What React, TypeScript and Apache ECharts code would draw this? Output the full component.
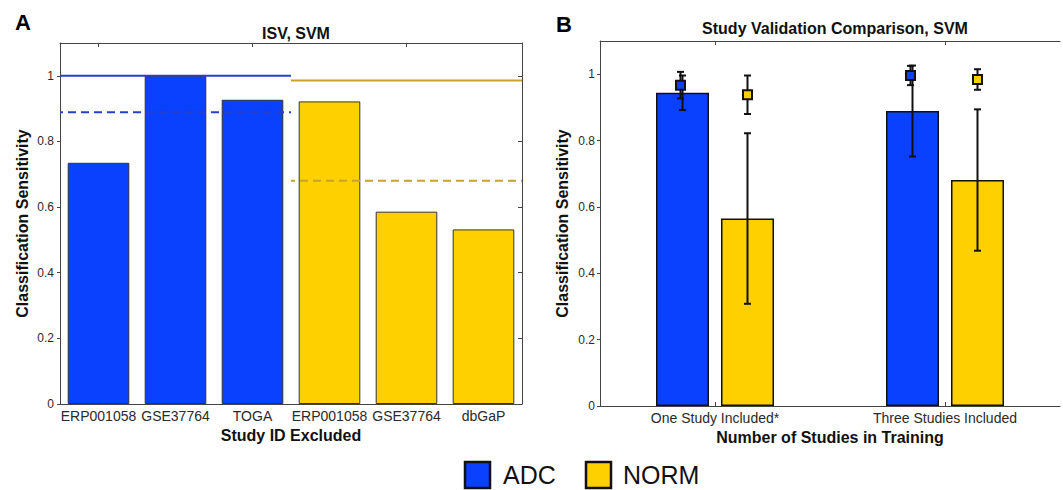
import React, { useEffect, useRef } from "react";
import * as echarts from "echarts";

// ---------- Panel A data ----------
const categoriesA = ["ERP001058", "GSE37764", "TOGA", "ERP001058", "GSE37764", "dbGaP"];
const adcA = [0.735, 1.0, 0.927, null, null, null];
const normA = [null, null, null, 0.922, 0.586, 0.532];
// reference levels: [solid, dashed]
const adcRefLevels = [1.0, 0.889];
const normRefLevels = [0.986, 0.68];
// category-group extents (in category index units) for the reference lines
const adcRefSpan = [-0.5, 2.5];
const normRefSpan = [2.5, 5.5];

// ---------- Panel B data ----------
const categoriesB = ["One Study Included*", "Three Studies Included"];
const adcB = [0.944, 0.889];
const adcBErr = [0.052, 0.137];
const normB = [0.565, 0.681];
const normBErr = [0.257, 0.213];
const adcBPoint = [0.967, 0.996];
const adcBPointErr = [0.04, 0.029];
const normBPoint = [0.938, 0.984];
const normBPointErr = [0.058, 0.031];

const yTicks = [0, 0.2, 0.4, 0.6, 0.8, 1];
const legendItems = ["ADC", "NORM"];

// ---------- styles ----------
const FONT = '"Liberation Sans", Arial, Helvetica, sans-serif';
const BLUE = "#0a41ff";
const GOLD = "#ffd000";
const BLUE_LINE = "#2540cc";
const GOLD_LINE = "#c9a12c";
const AXIS = "#444";
const LABEL = "#2a2a2a";
const BAR_W_B = 53;
const GAP_B = 12;
const OFF_B = (BAR_W_B + GAP_B) / 2;

function errorBar(offset: number) {
  return (params: any, api: any) => {
    const i = api.value(0);
    const v = api.value(1);
    const e = api.value(2);
    const x = api.coord([i, v])[0] + offset;
    const yt = api.coord([i, v + e])[1];
    const yb = api.coord([i, v - e])[1];
    const cap = 3.5;
    const style = { stroke: "#111", lineWidth: 2 };
    return {
      type: "group",
      children: [
        { type: "line", shape: { x1: x, y1: yt, x2: x, y2: yb }, style },
        { type: "line", shape: { x1: x - cap, y1: yt, x2: x + cap, y2: yt }, style },
        { type: "line", shape: { x1: x - cap, y1: yb, x2: x + cap, y2: yb }, style },
      ],
    };
  };
}

function pointMarker(offset: number, color: string) {
  const eb = errorBar(offset);
  return (params: any, api: any) => {
    const i = api.value(0);
    const v = api.value(1);
    const [cx, cy] = api.coord([i, v]);
    const x = cx + offset;
    const s = 9;
    const g: any = eb(params, api);
    g.children.push({
      type: "rect",
      shape: { x: x - s / 2, y: cy - s / 2, width: s, height: s },
      style: { fill: color, stroke: "#111", lineWidth: 2 },
    });
    return g;
  };
}

export default function App() {
  const ref = useRef<HTMLDivElement>(null);
  useEffect(() => {
    if (!ref.current) return;
    const chart = echarts.init(ref.current, null, { renderer: "svg" });

    const lineStyle = { color: AXIS, width: 1 };
    const yAxisBase = (gridIndex: number, margin: number, nameGap: number) => ({
      type: "value",
      gridIndex,
      min: 0,
      max: 1.1,
      interval: 0.2,
      name: "Classification Sensitivity",
      nameLocation: "middle",
      nameGap,
      nameTextStyle: { fontFamily: FONT, fontSize: 16, fontWeight: "bold", color: "#111" },
      axisLine: { show: true, onZero: false, lineStyle },
      axisTick: { show: true, inside: false, length: 3, lineStyle: { color: AXIS }, customValues: yTicks },
      axisLabel: { fontFamily: FONT, fontSize: 12, color: LABEL, margin, customValues: yTicks },
      splitLine: { show: false },
    });

    const option: any = {
      animation: false,
      textStyle: { fontFamily: FONT },
      title: [
        { text: "A", left: 10, top: 6, textStyle: { fontFamily: FONT, fontSize: 22, fontWeight: "bold", color: "#000" } },
        { text: "ISV, SVM", left: 291, top: 20, textAlign: "center", textStyle: { fontFamily: FONT, fontSize: 16, fontWeight: "bold", color: "#111" } },
        { text: "B", left: 551, top: 8, textStyle: { fontFamily: FONT, fontSize: 22, fontWeight: "bold", color: "#000" } },
        { text: "Study Validation Comparison, SVM", left: 830, top: 15, textAlign: "center", textStyle: { fontFamily: FONT, fontSize: 16, fontWeight: "bold", color: "#111" } },
      ],
      grid: [
        { left: 60, top: 43, right: 1063 - 522, bottom: 490 - 404, containLabel: false },
        { left: 600, top: 41, right: 3, bottom: 490 - 406, containLabel: false },
      ],
      xAxis: [
        {
          type: "category",
          gridIndex: 0,
          data: categoriesA,
          position: "bottom",
          name: "Study ID Excluded",
          nameLocation: "middle",
          nameGap: 22,
          nameTextStyle: { fontFamily: FONT, fontSize: 16, fontWeight: "bold", color: "#111" },
          axisLine: { show: true, onZero: false, lineStyle },
          axisTick: { show: true, inside: true, alignWithLabel: true, length: 4, lineStyle: { color: AXIS } },
          axisLabel: { interval: 0, hideOverlap: false, fontFamily: FONT, fontSize: 14, color: LABEL, margin: 5 },
        },
        {
          type: "category",
          gridIndex: 0,
          data: categoriesA,
          position: "top",
          axisLine: { show: true, onZero: false, lineStyle },
          axisTick: { show: true, inside: true, alignWithLabel: true, length: 4, lineStyle: { color: AXIS } },
          axisLabel: { show: false },
        },
        {
          type: "value",
          gridIndex: 0,
          min: -0.5,
          max: 5.5,
          show: false,
          axisLine: { show: false, onZero: false },
          splitLine: { show: false },
        },
        {
          type: "category",
          gridIndex: 1,
          data: categoriesB,
          position: "bottom",
          name: "Number of Studies in Training",
          nameLocation: "middle",
          nameGap: 22,
          nameTextStyle: { fontFamily: FONT, fontSize: 16, fontWeight: "bold", color: "#111" },
          axisLine: { show: true, onZero: false, lineStyle },
          axisTick: { show: true, inside: true, alignWithLabel: true, length: 4, lineStyle: { color: AXIS } },
          axisLabel: { interval: 0, fontFamily: FONT, fontSize: 14, color: LABEL, margin: 5 },
        },
        {
          type: "category",
          gridIndex: 1,
          data: categoriesB,
          position: "top",
          axisLine: { show: true, onZero: false, lineStyle },
          axisTick: { show: true, inside: true, alignWithLabel: true, length: 4, lineStyle: { color: AXIS } },
          axisLabel: { show: false },
        },
      ],
      yAxis: [
        yAxisBase(0, 6, 30),
        {
          type: "value",
          gridIndex: 0,
          position: "right",
          min: 0,
          max: 1.1,
          interval: 0.2,
          axisLine: { show: true, onZero: false, lineStyle },
          axisTick: { show: true, inside: true, length: 4, lineStyle: { color: AXIS }, customValues: yTicks },
          axisLabel: { show: false },
          splitLine: { show: false },
        },
        yAxisBase(1, 5, 30),
      ],
      series: [
        // Panel A bars
        {
          name: legendItems[0],
          type: "bar",
          xAxisIndex: 0,
          yAxisIndex: 0,
          data: adcA,
          barCategoryGap: "20%",
          barGap: "-100%",
          itemStyle: { color: BLUE, borderColor: "#333", borderWidth: 1 },
          z: 2,
        },
        {
          name: legendItems[1],
          type: "bar",
          xAxisIndex: 0,
          yAxisIndex: 0,
          data: normA,
          barCategoryGap: "20%",
          barGap: "-100%",
          itemStyle: { color: GOLD, borderColor: "#333", borderWidth: 1 },
          z: 2,
        },
        // Panel A reference lines
        {
          name: "ADC reference (solid)",
          type: "line",
          xAxisIndex: 2,
          yAxisIndex: 0,
          data: adcRefSpan.map((x) => [x, adcRefLevels[0]]),
          symbol: "none",
          lineStyle: { color: BLUE_LINE, width: 2 },
          z: 5,
        },
        {
          name: "ADC reference (dashed)",
          type: "line",
          xAxisIndex: 2,
          yAxisIndex: 0,
          data: adcRefSpan.map((x) => [x, adcRefLevels[1]]),
          symbol: "none",
          lineStyle: { color: BLUE_LINE, width: 2, type: [8, 5], dashOffset: 5 },
          z: 5,
        },
        {
          name: "NORM reference (solid)",
          type: "line",
          xAxisIndex: 2,
          yAxisIndex: 0,
          data: normRefSpan.map((x) => [x, normRefLevels[0]]),
          symbol: "none",
          lineStyle: { color: GOLD_LINE, width: 2 },
          z: 5,
        },
        {
          name: "NORM reference (dashed)",
          type: "line",
          xAxisIndex: 2,
          yAxisIndex: 0,
          data: normRefSpan.map((x) => [x, normRefLevels[1]]),
          symbol: "none",
          lineStyle: { color: GOLD_LINE, width: 2, type: [8, 5], dashOffset: 4 },
          z: 5,
        },
        // Panel B bars
        {
          name: legendItems[0],
          type: "bar",
          xAxisIndex: 3,
          yAxisIndex: 2,
          data: adcB,
          barWidth: BAR_W_B,
          barGap: `${(GAP_B / BAR_W_B) * 100}%`,
          itemStyle: { color: BLUE, borderColor: "#111", borderWidth: 1.5 },
          z: 2,
        },
        {
          name: legendItems[1],
          type: "bar",
          xAxisIndex: 3,
          yAxisIndex: 2,
          data: normB,
          barWidth: BAR_W_B,
          barGap: `${(GAP_B / BAR_W_B) * 100}%`,
          itemStyle: { color: GOLD, borderColor: "#111", borderWidth: 1.5 },
          z: 2,
        },
        // Panel B error bars
        {
          name: "ADC error",
          type: "custom",
          xAxisIndex: 3,
          yAxisIndex: 2,
          renderItem: errorBar(-OFF_B),
          encode: { x: 0, y: 1 },
          data: adcB.map((v, i) => [i, v, adcBErr[i]]),
          z: 3,
        },
        {
          name: "NORM error",
          type: "custom",
          xAxisIndex: 3,
          yAxisIndex: 2,
          renderItem: errorBar(OFF_B),
          encode: { x: 0, y: 1 },
          data: normB.map((v, i) => [i, v, normBErr[i]]),
          z: 3,
        },
        {
          name: "ADC point",
          type: "custom",
          xAxisIndex: 3,
          yAxisIndex: 2,
          renderItem: pointMarker(-OFF_B - 2, BLUE),
          encode: { x: 0, y: 1 },
          data: adcBPoint.map((v, i) => [i, v, adcBPointErr[i]]),
          z: 4,
        },
        {
          name: "NORM point",
          type: "custom",
          xAxisIndex: 3,
          yAxisIndex: 2,
          renderItem: pointMarker(OFF_B, GOLD),
          encode: { x: 0, y: 1 },
          data: normBPoint.map((v, i) => [i, v, normBPointErr[i]]),
          z: 4,
        },
      ],
      graphic: [
        { type: "rect", shape: { x: 465, y: 462, width: 25, height: 26 }, style: { fill: BLUE, stroke: "#111", lineWidth: 2.5 } },
        { type: "text", x: 503, y: 475, style: { text: legendItems[0], fontFamily: FONT, fontSize: 25, fill: "#111", verticalAlign: "middle", align: "left" } },
        { type: "rect", shape: { x: 586, y: 462, width: 25, height: 26 }, style: { fill: GOLD, stroke: "#111", lineWidth: 2.5 } },
        { type: "text", x: 623, y: 475, style: { text: legendItems[1], fontFamily: FONT, fontSize: 25, fill: "#111", verticalAlign: "middle", align: "left" } },
      ],
    };

    chart.setOption(option);
    return () => chart.dispose();
  }, []);

  return (
    <div
      ref={ref}
      style={{ position: "absolute", left: 0, top: 0, width: 1063, height: 490, background: "#fff" }}
    />
  );
}
